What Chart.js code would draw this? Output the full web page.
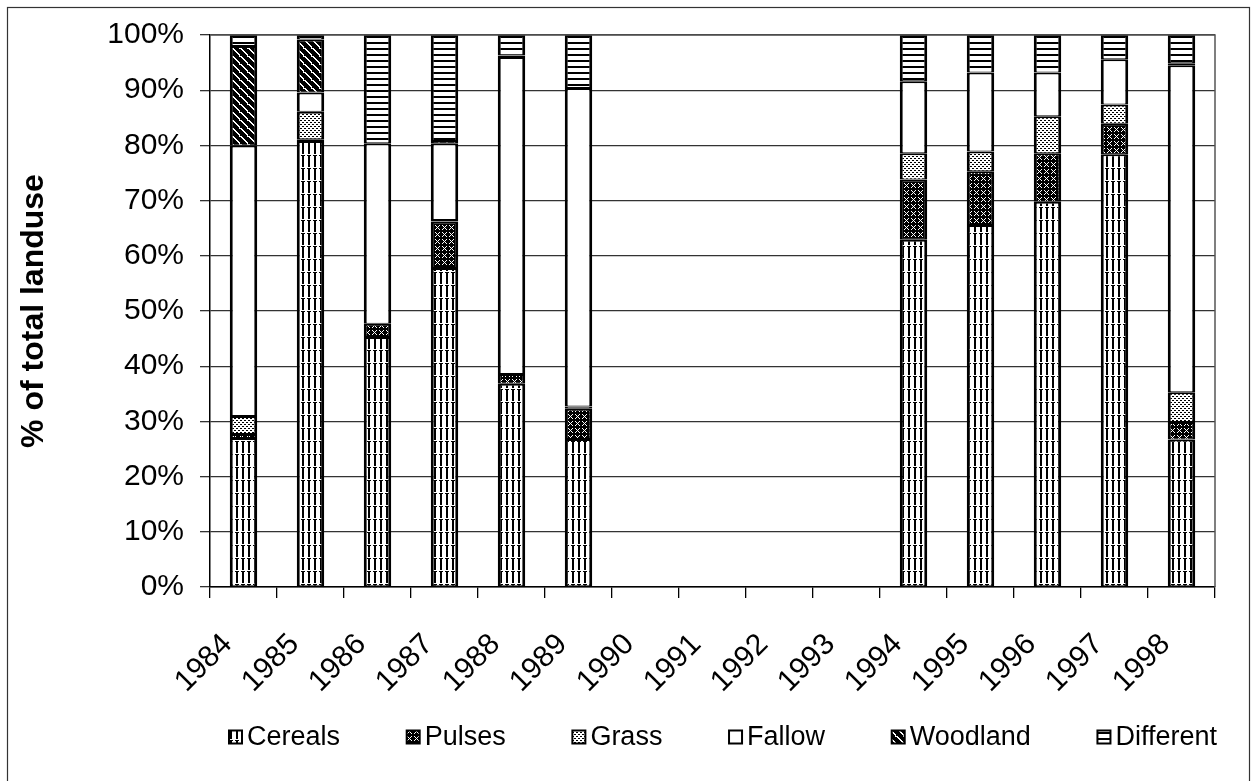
<!DOCTYPE html>
<html>
<head>
<meta charset="utf-8">
<script src="https://cdn.jsdelivr.net/npm/chart.js@4.4.1/dist/chart.umd.min.js"></script>
<style>
html,body{margin:0;padding:0;background:#fff;}
canvas{display:block;}
</style>
</head>
<body>
<canvas id="c" width="1252" height="781"></canvas>
<script>
const years = ['1984','1985','1986','1987','1988','1989','1990','1991','1992','1993','1994','1995','1996','1997','1998'];
const cereals   = [27.0, 80.8, 45.3, 57.8, 36.8, 26.8, null, null, null, null, 62.9, 65.6, 69.8, 78.4, 26.7];
const pulses    = [0.7, 0.3, 2.4, 8.4, 1.8, 5.5, null, null, null, null, 10.9, 9.7, 8.8, 5.5, 3.2];
const grass     = [3.3, 5.0, 0, 0.3, 0, 0.4, null, null, null, null, 4.8, 3.6, 6.7, 3.5, 5.4];
const fallow    = [49.0, 3.5, 32.7, 13.9, 57.4, 57.7, null, null, null, null, 13.0, 14.3, 7.9, 8.2, 59.2];
const woodland  = [18.0, 9.6, 0, 0.4, 0.3, 0, null, null, null, null, 0, 0, 0, 0, 0.4];
const different = [2.0, 0.8, 19.6, 19.2, 3.7, 9.6, null, null, null, null, 8.4, 6.8, 6.8, 4.4, 5.1];
const seriesNames = ['Cereals','Pulses','Grass','Fallow','Woodland','Different'];
const yTicks = [0,10,20,30,40,50,60,70,80,90,100];

function makePattern(w, h, draw) {
  const c = document.createElement('canvas');
  c.width = w; c.height = h;
  const g = c.getContext('2d');
  g.fillStyle = '#fff'; g.fillRect(0,0,w,h);
  g.fillStyle = '#000';
  draw(g);
  return document.createElement('canvas').getContext('2d').createPattern(c, 'repeat');
}
const patCereals = makePattern(6, 13, g => { g.fillRect(2,0,2,11); g.fillRect(1,12,4,1); });
const patPulses = makePattern(7, 7, g => {
  g.fillRect(0,0,7,7); g.fillStyle = '#fff';
  for (let i=1;i<6;i++){ g.fillRect(i,i,1,1); g.fillRect(6-i,i,1,1); }
});
const patGrass = makePattern(4, 4, g => { g.fillRect(0,0,1,1); g.fillRect(1,0,1,1); g.fillRect(2,2,1,1); g.fillRect(3,2,1,1); });
const patFallow = '#ffffff';
const patWood = makePattern(8, 8, g => {
  g.fillRect(0,0,8,8); g.fillStyle = '#fff';
  for (let i=0;i<8;i++){ g.fillRect(i,i,2,1); }
  g.fillRect(7,0,1,1);
});
const patDiff = makePattern(4, 6, g => { g.fillRect(0,0,4,2); });
const fills = [patCereals, patPulses, patGrass, patFallow, patWood, patDiff];
const values = [cereals, pulses, grass, fallow, woodland, different];

const FONT = "'Liberation Sans', Arial, sans-serif";

const frame = {
  id: 'frame',
  afterDraw(chart) {
    const ctx = chart.ctx, a = chart.chartArea;
    ctx.save();
    ctx.strokeStyle = '#555'; ctx.lineWidth = 1.5;
    ctx.beginPath();
    ctx.moveTo(a.left, a.top); ctx.lineTo(a.right, a.top); ctx.lineTo(a.right, a.bottom);
    ctx.stroke();
    ctx.strokeStyle = '#333'; ctx.lineWidth = 1.2;
    ctx.strokeRect(7.5, 7.5, 1242, 790);
    ctx.font = '27px ' + FONT;
    ctx.textBaseline = 'middle';
    ctx.textAlign = 'left';
    const box = 15, gapBT = 4, startX = 228, endX = 1217, cy = 737;
    const widths = seriesNames.map(n => box + gapBT + ctx.measureText(n).width);
    const total = widths.reduce((s,v)=>s+v,0);
    const gap = (endX - startX - total) / (seriesNames.length - 1);
    let x = startX;
    seriesNames.forEach((n,i) => {
      ctx.fillStyle = '#000';
      ctx.fillRect(x, cy - box/2, box, box);
      ctx.fillStyle = fills[i];
      ctx.fillRect(x+2, cy - box/2 + 2, box-4, box-4);
      ctx.fillStyle = '#000';
      ctx.fillText(n, x + box + gapBT, cy + 1);
      x += widths[i] + gap;
    });
    ctx.restore();
  }
};

new Chart(document.getElementById('c'), {
  type: 'bar',
  data: {
    labels: years,
    datasets: seriesNames.map((n,i) => ({
      label: n,
      data: values[i],
      backgroundColor: fills[i],
      borderColor: '#000',
      borderWidth: {left: 3, right: 3, top: 2, bottom: 1},
      borderSkipped: false,
      categoryPercentage: 1,
      barPercentage: 0.41
    }))
  },
  options: {
    responsive: false,
    animation: false,
    devicePixelRatio: 1,
    layout: { padding: { left: 8, top: 35, right: 37, bottom: 0 } },
    plugins: { legend: { display: false }, tooltip: { enabled: false } },
    scales: {
      x: {
        stacked: true,
        grid: { display: true, drawOnChartArea: false, offset: true, tickLength: 11, color: '#000', lineWidth: 1.3 },
        border: { color: '#000', width: 1.5 },
        ticks: { color: '#000', font: { size: 30, family: FONT }, maxRotation: 45, minRotation: 45, padding: 29, labelOffset: -16, autoSkip: false },
        afterFit(s) { s.height = 194; }
      },
      y: {
        stacked: true,
        min: 0, max: 100,
        afterBuildTicks(s) { s.ticks = yTicks.map(v => ({ value: v })); },
        grid: { color: '#333', lineWidth: 1.3, tickLength: 10 },
        border: { color: '#000', width: 1.5 },
        ticks: { color: '#000', font: { size: 30, family: FONT }, padding: 16, callback: v => v + '%' },
        title: { display: true, text: '% of total landuse', color: '#000', font: { size: 32, weight: 'bold', family: FONT }, padding: { top: 7, bottom: 0 } },
        afterFit(s) { s.width = 202; }
      }
    }
  },
  plugins: [frame]
});
</script>
</body>
</html>
